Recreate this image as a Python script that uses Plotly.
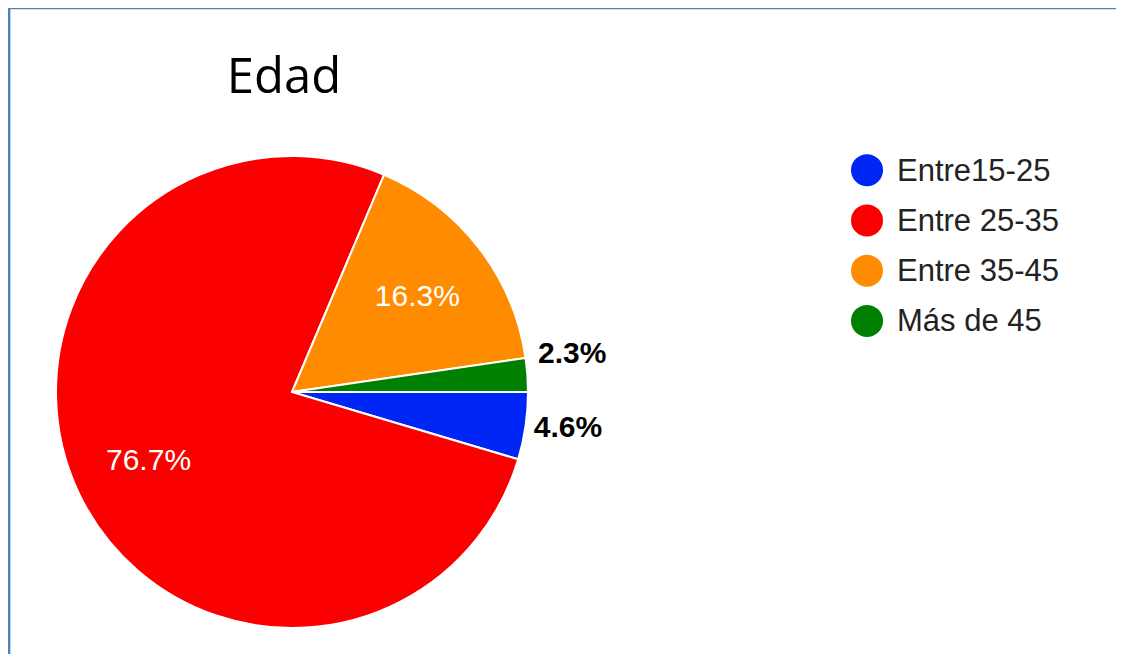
import math
import plotly.graph_objects as go

categories = ["Entre15-25", "Entre 25-35", "Entre 35-45", "Más de 45"]
percentages = [4.6, 76.7, 16.3, 2.3]
colors = ["#0026F5", "#FA0000", "#FF8C00", "#008000"]
# native label placement per slice ('none' = placed as annotation below)
text_positions = ["outside", "none", "inside", "none"]

# page is offset by the 8px body margin
OFF = 8
W, H = 1124 - OFF, 654 - OFF


def px(x):
    return (x - OFF) / W


def py(y):
    return 1 - (y - OFF) / H


# pie geometry in page pixels
CX, CY, R = 292, 392, 236

fig = go.Figure()

fig.add_trace(go.Pie(
    labels=categories,
    values=percentages,
    sort=False,
    direction="clockwise",
    rotation=90,
    marker=dict(colors=colors, line=dict(color="white", width=2)),
    texttemplate="%{value:.1f}%",
    textposition=text_positions,
    insidetextorientation="horizontal",
    insidetextfont=dict(family="Liberation Sans, Arial", size=30, color="white"),
    outsidetextfont=dict(family="Liberation Sans, Arial", size=30, color="black", weight="bold"),
    hoverinfo="label+percent",
    showlegend=False,
    domain=dict(x=[px(CX - R), px(CX + R)], y=[py(CY + R), py(CY - R)]),
))

# Labels placed from the slice mid-angles (clockwise from 3 o'clock)
total = sum(percentages)
start = 0.0
mids = []
for v in percentages:
    span = 360.0 * v / total
    mids.append(start + span / 2)
    start += span

# large slice: inside white label
i = 1
a = math.radians(mids[i])
fig.add_annotation(
    x=px(CX + 0.674 * R * math.cos(a)), y=py(CY + 0.674 * R * math.sin(a)),
    xref="paper", yref="paper", showarrow=False,
    text=f"{percentages[i]:.1f}%", xanchor="center", yanchor="middle",
    font=dict(family="Liberation Sans, Arial", size=30, color="white"),
)
# smallest slice: outside bold label, nudged up to clear its neighbour
i = 3
a = math.radians(mids[i])
fig.add_annotation(
    x=px(CX + R + 8), y=py(CY + (R + 43) * math.sin(a)),
    xref="paper", yref="paper", showarrow=False,
    text=f"{percentages[i]:.1f}%", xanchor="left", yanchor="middle", yshift=19,
    font=dict(family="Liberation Sans, Arial", size=30, color="black", weight="bold"),
)

# Custom legend: large circles with labels
rows = list(range(len(categories)))
fig.add_trace(go.Scatter(
    x=[0] * len(categories),
    y=rows,
    mode="markers",
    marker=dict(size=32, color=colors, line=dict(width=0)),
    cliponaxis=False,
    xaxis="x", yaxis="y",
    showlegend=False,
    hoverinfo="skip",
))
for i, cat in enumerate(categories):
    fig.add_annotation(
        x=0, y=i, xref="x", yref="y",
        text=cat, showarrow=False,
        xanchor="left", yanchor="middle", xshift=28,
        font=dict(family="Liberation Sans, Arial", size=31, color="#222222"),
    )

fig.update_layout(
    width=W, height=H,
    margin=dict(l=0, r=0, t=0, b=0),
    paper_bgcolor="white",
    plot_bgcolor="rgba(0,0,0,0)",
    title=dict(text="Edad", x=px(284), xanchor="center", y=py(76), yanchor="middle",
               font=dict(family="Open Sans", size=49, color="black")),
    xaxis=dict(domain=[px(867), 1.0], range=[0, 1], visible=False, fixedrange=True),
    yaxis=dict(domain=[py(346), py(145)], range=[3.5, -0.5], visible=False, fixedrange=True),
    shapes=[
        dict(type="line", xref="paper", yref="paper", x0=0.001, x1=1, y0=py(8), y1=py(8),
             line=dict(color="#4F81BD", width=2.5)),
        dict(type="line", xref="paper", yref="paper", x0=0.001, x1=0.001, y0=0, y1=py(8),
             line=dict(color="#4F81BD", width=2.5)),
    ],
)

fig.write_html("out.html")
